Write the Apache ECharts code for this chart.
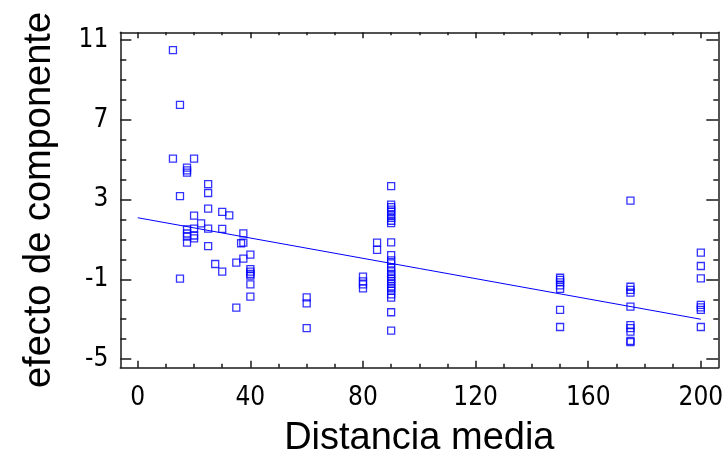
<!DOCTYPE html>
<html>
<head>
<meta charset="utf-8">
<script src="https://cdn.jsdelivr.net/npm/echarts@6/dist/echarts.min.js"></script>
<style>
html,body{margin:0;padding:0;background:#fff;}
#chart{width:726px;height:458px;}
</style>
</head>
<body>
<div id="chart"></div>
<script>
// Distance levels (x) and the component effects observed at each level (y)
const distanceLevels = [12.5, 15, 17.5, 20, 22.5, 25, 27.5, 30, 32.5, 35, 36.7, 37.5, 40, 60, 80, 85, 90, 150, 175, 200];
const effectsByLevel = [
  [10.5, 5.05],
  [7.75, 3.17, -0.96],
  [4.6, 4.47, 4.35, 1.51, 1.3, 1.15, 0.84],
  [5.05, 2.2, 1.54, 1.2, 1.06],
  [1.81],
  [3.78, 3.33, 2.55, 1.54, 0.67],
  [-0.23],
  [2.38, 1.53, -0.61],
  [2.21],
  [-0.16, -2.42],
  [0.81],
  [1.31, 0.84, 0.04],
  [0.24, -0.49, -0.61, -0.73, -0.81, -1.25, -1.87],
  [-1.9, -2.2, -3.45],
  [-0.86, -1.1, -1.25, -1.45],
  [0.84, 0.48],
  [3.68, 2.75, 2.62, 2.5, 2.38, 2.22, 2.08, 1.94, 1.82, 0.85, 0.22, -0.05, -0.2, -0.42, -0.6, -0.72, -0.85, -0.98, -1.1, -1.22, -1.35, -1.45, -1.58, -1.75, -1.92, -2.65, -3.57],
  [-0.92, -1.03, -1.15, -1.3, -1.48, -2.53, -3.39],
  [2.95, -1.37, -1.53, -1.67, -2.37, -3.29, -3.45, -3.62, -4.08, -4.15],
  [0.34, -0.33, -0.95, -2.28, -2.4, -2.53, -3.39]
];
// Fitted line end points
const fitX = [0, 200];
const fitY = [2.09, -3.0];
// Tick values
const xMajorTicks = [0, 40, 80, 120, 160, 200];
const xMinorTicks = [0,10,20,30,40,50,60,70,80,90,100,110,120,130,140,150,160,170,180,190,200];
const yMajorTicks = [-5, -1, 3, 7, 11];
const yMinorTicks = [-5,-4,-3,-2,-1,0,1,2,3,4,5,6,7,8,9,10,11];

const xTitle = 'Distancia media';
const yTitle = 'efecto de componente';

const points = [];
distanceLevels.forEach((d, i) => effectsByLevel[i].forEach(v => points.push([d, v])));
const fitLine = fitX.map((x, i) => [x, fitY[i]]);

const XMIN = -6.2, XMAX = 206.2, YMIN = -5.43, YMAX = 11.39;
const frameColor = '#1a1a1a';
const tickFont = "'Liberation Sans Narrow','Arial Narrow','DejaVu Sans Condensed',sans-serif";
const titleFont = "'Liberation Sans',Arial,sans-serif";

function line(show) {
  return { show: show, onZero: false, lineStyle: { color: frameColor, width: 1.5 } };
}
function xAx(pos, ticks, len, opts) {
  return Object.assign({
    type: 'value', position: pos, min: XMIN, max: XMAX,
    splitLine: { show: false },
    axisLine: line(false),
    axisTick: { show: true, inside: true, length: len, customValues: ticks, lineStyle: { color: frameColor, width: 1.5 } },
    axisLabel: { show: false }
  }, opts || {});
}
function yAx(pos, ticks, len, opts) {
  return Object.assign({
    type: 'value', position: pos, min: YMIN, max: YMAX,
    splitLine: { show: false },
    axisLine: line(false),
    axisTick: { show: true, inside: true, length: len, customValues: ticks, lineStyle: { color: frameColor, width: 1.5 } },
    axisLabel: { show: false }
  }, opts || {});
}

const chart = echarts.init(document.getElementById('chart'), null, { renderer: 'canvas' });
chart.setOption({
  animation: false,
  backgroundColor: '#ffffff',
  grid: { left: 120.3, right: 7.7, top: 32.3, bottom: 90.3, containLabel: false, outerBoundsMode: 'none' },
  xAxis: [
    xAx('bottom', xMajorTicks, 7, {
      axisLine: line(true),
      axisLabel: { show: true, customValues: xMajorTicks, margin: 18, color: '#000', fontSize: 26, fontFamily: tickFont },
      name: xTitle, nameLocation: 'middle', nameGap: 52,
      nameTextStyle: { color: '#000', fontSize: 38, fontFamily: titleFont }
    }),
    xAx('bottom', xMinorTicks, 4),
    xAx('top', xMajorTicks, 6, { axisLine: line(true) }),
    xAx('top', xMinorTicks, 3)
  ],
  yAxis: [
    yAx('left', yMajorTicks, 11, {
      axisLine: line(true),
      axisLabel: { show: true, customValues: yMajorTicks, margin: 12, color: '#000', fontSize: 26, fontFamily: tickFont },
      name: yTitle, nameLocation: 'middle', nameGap: 62, nameRotate: 90,
      nameTextStyle: { color: '#000', fontSize: 38, fontFamily: titleFont }
    }),
    yAx('left', yMinorTicks, 6),
    yAx('right', yMajorTicks, 12, { axisLine: line(true) }),
    yAx('right', yMinorTicks, 5)
  ],
  series: [
    {
      type: 'scatter', xAxisIndex: 0, yAxisIndex: 0,
      data: points, symbol: 'rect', symbolSize: 7,
      itemStyle: { color: 'rgba(255,255,255,0)', borderColor: '#0000ff', borderWidth: 1.3 },
      emphasis: { disabled: true }
    },
    {
      type: 'line', xAxisIndex: 0, yAxisIndex: 0,
      data: fitLine, showSymbol: false, symbol: 'none',
      lineStyle: { color: '#0000ff', width: 1 },
      emphasis: { disabled: true }
    }
  ]
});
</script>
</body>
</html>
